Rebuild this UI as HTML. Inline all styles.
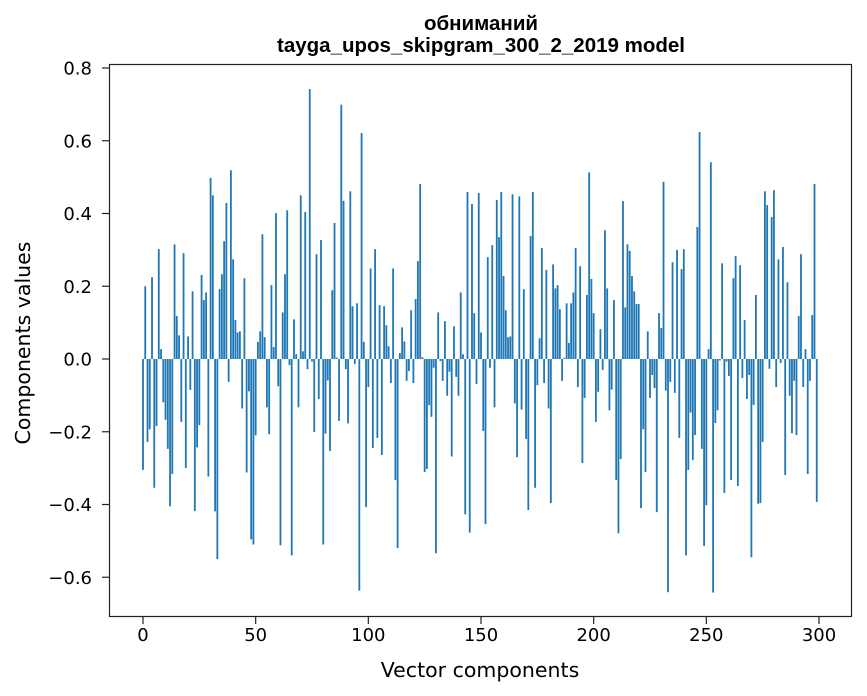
<!DOCTYPE html>
<html><head><meta charset="utf-8">
<style>
html,body{margin:0;padding:0;background:#fff;}
svg{display:block;font-family:"DejaVu Sans","Liberation Sans",sans-serif;}
</style></head>
<body>
<svg id="chart" width="867" height="696" viewBox="0 0 867 696" xmlns="http://www.w3.org/2000/svg">
<rect width="867" height="696" fill="#fff"/>
<text x="481" y="30" text-anchor="middle" font-size="20.5" font-weight="bold" font-family="Liberation Sans, sans-serif">обниманий</text>
<text x="481" y="52" text-anchor="middle" font-size="20.5" font-weight="bold" font-family="Liberation Sans, sans-serif">tayga_upos_skipgram_300_2_2019 model</text>
<g id="bars"></g>
<g id="xticks"></g>
<g id="yticks"></g>
<rect x="109.5" y="64.5" width="742" height="552" fill="none" stroke="#222" stroke-width="1.2"/>
<text x="480" y="677" text-anchor="middle" font-size="20.5">Vector components</text>
<text transform="translate(30,343) rotate(-90)" text-anchor="middle" font-size="20.5">Components values</text>
</svg>
<script>
const values = [
-0.305,0.200,-0.228,-0.193,0.225,-0.354,-0.184,0.302,0.027,-0.119,
-0.167,-0.247,-0.405,-0.316,0.315,0.118,0.065,-0.173,0.291,-0.300,
0.062,-0.085,0.186,-0.418,-0.243,-0.182,0.231,0.162,0.183,-0.323,
0.498,0.450,-0.419,-0.550,0.192,0.233,0.324,0.429,-0.063,0.519,
0.274,0.107,0.073,0.076,-0.136,0.222,-0.312,-0.089,-0.496,-0.510,
-0.210,0.047,0.076,0.343,0.060,-0.133,-0.207,0.203,0.033,0.401,
-0.075,-0.512,0.128,0.233,0.409,-0.017,-0.540,0.109,0.013,-0.133,
0.450,0.021,0.404,-0.028,0.742,-0.007,-0.201,0.288,-0.110,0.327,
-0.510,-0.205,-0.059,-0.253,0.189,0.374,0.004,-0.170,0.699,0.435,
-0.028,-0.177,0.461,0.145,-0.014,0.153,-0.637,0.621,0.047,-0.407,
-0.077,0.249,-0.245,0.302,-0.217,0.148,-0.264,0.145,0.093,0.035,
-0.066,0.249,-0.333,-0.520,0.016,0.087,0.048,-0.060,-0.033,0.134,
-0.066,0.165,0.269,0.481,0.005,-0.311,-0.302,-0.127,-0.159,-0.024,
-0.534,0.128,-0.006,-0.060,0.104,-0.101,-0.035,-0.268,0.090,-0.049,
-0.101,0.183,0.013,-0.427,0.459,-0.477,0.426,0.126,-0.069,0.456,
0.073,-0.198,-0.454,0.280,-0.024,0.313,-0.133,0.437,0.335,0.459,
0.228,0.134,0.060,0.062,0.453,-0.122,-0.270,0.447,-0.139,0.192,
-0.220,-0.415,0.338,0.459,-0.354,-0.072,0.057,0.305,-0.066,0.245,
-0.136,-0.396,0.260,0.194,0.203,0.137,-0.060,0.003,0.153,0.044,
0.153,0.183,0.305,-0.077,0.255,-0.286,-0.107,0.176,0.513,0.220,
0.126,-0.173,-0.090,0.082,-0.030,0.354,0.194,-0.141,-0.084,0.162,
-0.333,-0.479,-0.275,0.434,0.142,0.315,0.297,0.228,0.186,0.151,
0.151,-0.410,-0.193,-0.311,0.076,-0.107,-0.044,-0.080,-0.421,0.126,
0.085,0.487,-0.087,-0.641,-0.063,0.266,-0.093,0.300,-0.217,0.247,
0.302,-0.540,-0.305,-0.147,-0.278,-0.209,0.363,0.624,-0.247,-0.514,
-0.402,0.027,0.541,-0.642,-0.176,-0.141,-0.004,0.263,-0.368,-0.007,
-0.047,-0.333,0.222,0.283,-0.349,0.258,-0.052,0.107,-0.110,-0.044,
-0.545,-0.126,0.176,-0.398,-0.396,-0.228,0.461,0.423,-0.027,0.390,
0.464,-0.077,0.274,-0.011,0.308,-0.319,0.211,-0.101,-0.204,-0.060,
-0.209,0.118,0.288,-0.077,0.027,-0.316,-0.060,0.121,0.481,-0.393
];
const xTickValues = [0,50,100,150,200,250,300];
const yTickValues = [-0.6,-0.4,-0.2,0.0,0.2,0.4,0.6,0.8];
const yTickLabels = ["\u22120.6","\u22120.4","\u22120.2","0.0","0.2","0.4","0.6","0.8"];

const NS="http://www.w3.org/2000/svg";
function xScale(v){return 143 + (v/300)*676;}
function yScale(v){return 359 - v*363.75;}
const barsG=document.getElementById('bars');
values.forEach((v,i)=>{
  const r=document.createElementNS(NS,'rect');
  const y0=yScale(0), y1=yScale(v);
  r.setAttribute('x', xScale(i-0.4));
  r.setAttribute('width', xScale(0.8)-xScale(0));
  r.setAttribute('y', Math.min(y0,y1));
  r.setAttribute('height', Math.abs(y1-y0));
  r.setAttribute('fill','#1f77b4');
  
  
  barsG.appendChild(r);
});
const xg=document.getElementById('xticks');
xTickValues.forEach(t=>{
  const x=xScale(t);
  const l=document.createElementNS(NS,'line');
  l.setAttribute('x1',x);l.setAttribute('x2',x);l.setAttribute('y1',617);l.setAttribute('y2',624);
  l.setAttribute('stroke','#222');
  l.setAttribute('stroke-width','1.2');
  
  
  xg.appendChild(l);
  const tx=document.createElementNS(NS,'text');
  tx.setAttribute('x',x);tx.setAttribute('y',641);tx.setAttribute('text-anchor','middle');tx.setAttribute('font-size','18');
  tx.textContent=String(t);
  
  
  xg.appendChild(tx);
});
const yg=document.getElementById('yticks');
yTickValues.forEach((t,i)=>{
  const y=yScale(t);
  const l=document.createElementNS(NS,'line');
  l.setAttribute('x1',102);l.setAttribute('x2',109);l.setAttribute('y1',y);l.setAttribute('y2',y);
  l.setAttribute('stroke','#222');
  l.setAttribute('stroke-width','1.2');
  
  
  yg.appendChild(l);
  const tx=document.createElementNS(NS,'text');
  tx.setAttribute('x',92);tx.setAttribute('y',y+6.5);tx.setAttribute('text-anchor','end');tx.setAttribute('font-size','18');
  tx.textContent=yTickLabels[i];
  
  
  yg.appendChild(tx);
});
</script>
</body></html>
